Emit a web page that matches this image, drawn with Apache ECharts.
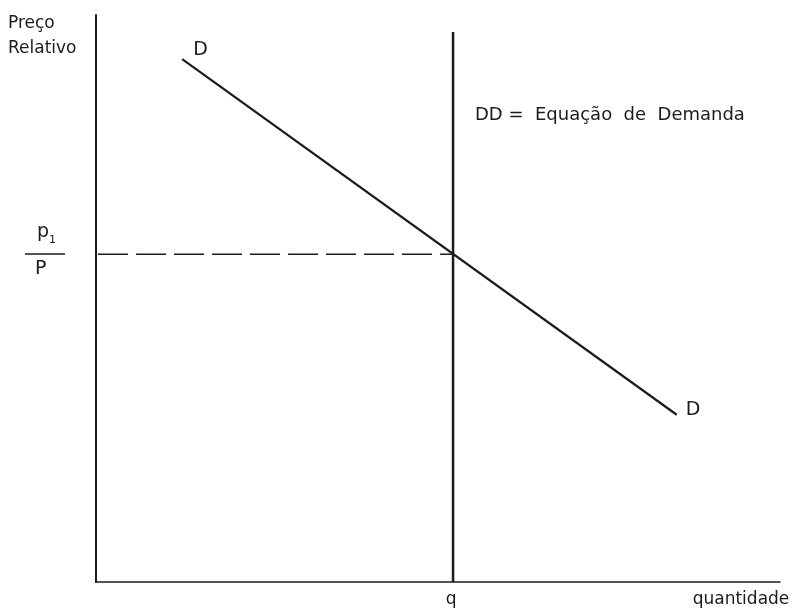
<!DOCTYPE html>
<html>
<head>
<meta charset="utf-8">
<script src="https://cdn.jsdelivr.net/npm/echarts@6/dist/echarts.min.js"></script>
<style>
  html, body { margin: 0; padding: 0; background: #fff; }
  #chart { width: 798px; height: 612px; }
</style>
</head>
<body>
<div id="chart"></div>
<script>
// diagram units: both axes run 0..100
const demandLine = [[12.6, 92.2], [84.9, 29.5]];
const quantityQ = 52.2;
const priceP = 57.8;
const quantityLineTop = 97;
const demandLabels = ['D', 'D'];
const axisNames = { x: 'quantidade', y: 'Preço\nRelativo' };
const legendText = 'DD =  Equação  de  Demanda';

const FONT = '"DejaVu Sans", sans-serif';
const INK = '#1c1c1c';

const chart = echarts.init(document.getElementById('chart'));

function lbl(extra) {
  return Object.assign({ show: true, color: INK, opacity: 1, fontFamily: FONT, fontSize: 17 }, extra);
}

const option = {
  animation: false,
  backgroundColor: '#fff',
  grid: { left: 96, right: 18, top: 15, bottom: 30 },
  xAxis: {
    type: 'value', min: 0, max: 100,
    axisLine: { show: true, lineStyle: { color: INK, width: 1.5 } },
    axisTick: { show: false }, axisLabel: { show: false }, splitLine: { show: false }
  },
  yAxis: {
    type: 'value', min: 0, max: 100,
    axisLine: { show: true, lineStyle: { color: INK, width: 2 } },
    axisTick: { show: false }, axisLabel: { show: false }, splitLine: { show: false }
  },
  series: [
    {
      // demand curve DD
      type: 'line',
      symbol: 'none',
      lineStyle: { color: INK, width: 2.2 },
      data: demandLine
    },
    {
      // vertical line at q
      type: 'line',
      symbol: 'none',
      lineStyle: { color: INK, width: 2.5 },
      data: [[quantityQ, 0], [quantityQ, quantityLineTop]]
    },
    {
      // dashed price line
      type: 'line',
      symbol: 'none',
      lineStyle: { color: INK, width: 1.6, type: [30, 8] },
      data: [[0.3, priceP], [quantityQ, priceP]]
    },
    {
      // text labels anchored to data points
      type: 'scatter',
      symbolSize: 0,
      itemStyle: { color: INK, opacity: 1 },
      silent: true,
      data: [
        { value: demandLine[0], label: lbl({ formatter: demandLabels[0], fontSize: 19, position: 'right', offset: [6, -9] }) },
        { value: demandLine[1], label: lbl({ formatter: demandLabels[1], fontSize: 19, position: 'right', offset: [4, -5] }) },
        { value: [quantityQ, 0], label: lbl({ formatter: 'q', position: 'bottom', distance: 9, offset: [-2, 0] }) },
        { value: [100, 0], label: lbl({ formatter: axisNames.x, position: 'bottom', distance: 9, offset: [-39, 0] }) }
      ]
    }
  ],
  graphic: [
    {
      type: 'text', left: 8, top: 11,
      style: { text: axisNames.y, fill: INK, font: '17px ' + FONT, lineHeight: 25 }
    },
    {
      type: 'text', left: 475, top: 106,
      style: { text: legendText, fill: INK, font: '18px ' + FONT }
    },
    { type: 'text', left: 37, top: 223, style: { text: 'p', fill: INK, font: '19px ' + FONT } },
    { type: 'text', left: 49, top: 235, style: { text: '1', fill: INK, font: '11px ' + FONT } },
    { type: 'line', shape: { x1: 25, y1: 254, x2: 65, y2: 254 }, style: { stroke: INK, lineWidth: 1.5 } },
    { type: 'text', left: 35, top: 260, style: { text: 'P', fill: INK, font: '19px ' + FONT } }
  ]
};

chart.setOption(option);
</script>
</body>
</html>
